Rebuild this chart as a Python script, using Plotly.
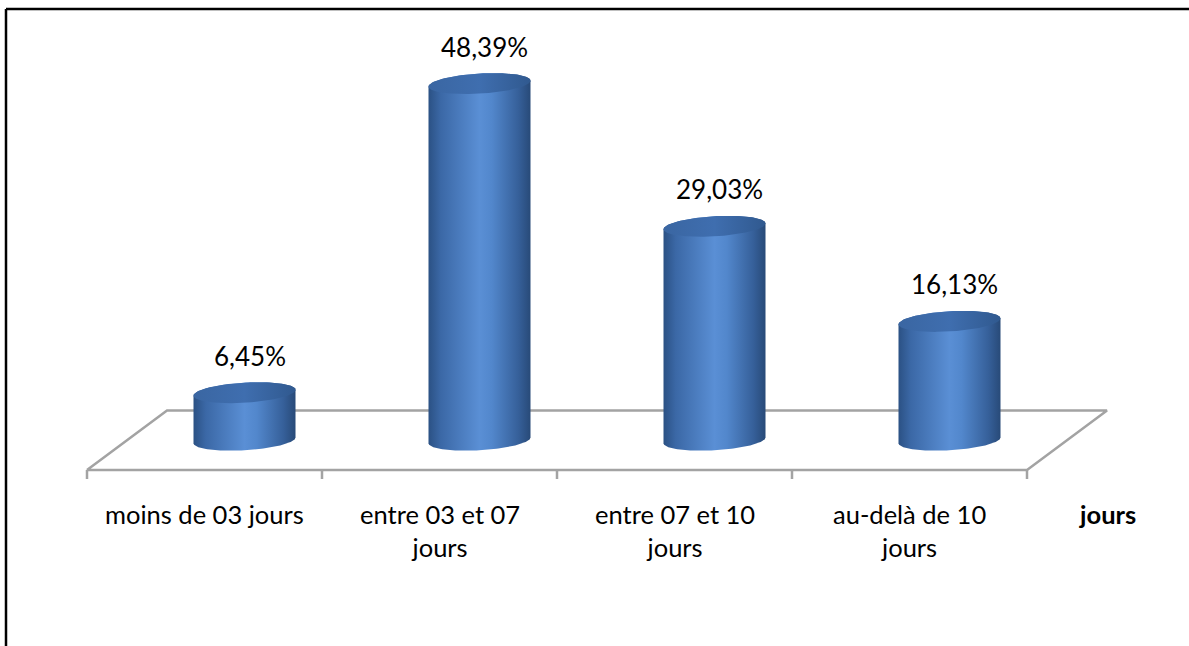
import numpy as np
import plotly.graph_objects as go

# ---- data -------------------------------------------------------------
categories = ["moins de 03 jours", "entre 03 et 07<br>jours",
              "entre 07 et 10<br>jours", "au-delà de 10<br>jours"]
values = [6.45, 48.39, 29.03, 16.13]
value_labels = ["6,45%", "48,39%", "29,03%", "16,13%"]
axis_title = "jours"

# ---- oblique 3-D projection parameters (axis units) -------------------
PX_PER_CAT = 235.0          # pixels per category step
PX_PER_PCT = 7.37           # pixels per percent
DEPTH_X = 80.0 / PX_PER_CAT  # floor depth, horizontal component
DEPTH_Y = 59.5 / PX_PER_PCT  # floor depth, vertical component
RADIUS_X = 49.0 / PX_PER_CAT  # cylinder radius across
RADIUS_D = 0.1766             # cylinder radius in depth fraction
TICK_LEN = 9.0 / PX_PER_PCT

W, H = 1189, 646
FRONT_Y_PX = 470.0
CAT0_X_PX = 204.5
x_range = [(0 - CAT0_X_PX) / PX_PER_CAT, (W - CAT0_X_PX) / PX_PER_CAT]
y_range = [(FRONT_Y_PX - H) / PX_PER_PCT, FRONT_Y_PX / PX_PER_PCT]

FONT = "Lato, 'Open Sans', sans-serif"
n = len(categories)

fig = go.Figure()

# floor of the 3-D plot
x_left, x_right = -0.5, n - 0.5
floor_x = [x_left, x_right, x_right + DEPTH_X, x_left + DEPTH_X, x_left]
floor_y = [0, 0, DEPTH_Y, DEPTH_Y, 0]
fig.add_trace(go.Scatter(x=floor_x, y=floor_y, mode="lines",
                         line=dict(color="#a3a3a3", width=2.5),
                         hoverinfo="skip"))

# category tick marks along the front edge
tx, ty = [], []
for k in range(n + 1):
    xv = x_left + k
    tx += [xv, xv, None]
    ty += [0, -TICK_LEN, None]
fig.add_trace(go.Scatter(x=tx, y=ty, mode="lines",
                         line=dict(color="#a3a3a3", width=2.5),
                         hoverinfo="skip"))

# ellipse parametrisation for a horizontal circle in the projection
shear = RADIUS_D * DEPTH_X
vert = RADIUS_D * DEPTH_Y
theta0 = np.arctan2(shear, RADIUS_X)


def ellipse(cx, cy, t):
    return (cx + RADIUS_X * np.cos(t) + shear * np.sin(t),
            cy + vert * np.sin(t))


body_scale = [[0.0, "#2b5184"], [0.12, "#3b68a6"], [0.5, "#5a8fd5"],
              [0.62, "#5287cc"], [0.88, "#36609a"], [1.0, "#284a78"]]
top_scale = [[0.0, "#3a66a2"], [0.5, "#3f6eaf"], [1.0, "#30598f"]]

for i, v in enumerate(values):
    cx = i + 0.5 * DEPTH_X
    base = 0.5 * DEPTH_Y
    top = base + v
    t_front = np.linspace(theta0 + np.pi, theta0 + 2 * np.pi, 80)
    t_back = np.linspace(theta0, theta0 + np.pi, 80)
    bx, by = ellipse(cx, base, t_front)
    ux, uy = ellipse(cx, top, t_back)
    fig.add_trace(go.Scatter(
        x=np.concatenate([bx, ux, bx[:1]]),
        y=np.concatenate([by, uy, by[:1]]),
        mode="lines", fill="toself", line=dict(width=0, color="#3b68a6"),
        fillgradient=dict(type="horizontal", colorscale=body_scale),
        hoverinfo="skip"))
    t_all = np.linspace(0, 2 * np.pi, 160)
    ex, ey = ellipse(cx, top, t_all)
    fig.add_trace(go.Scatter(
        x=ex, y=ey, mode="lines", fill="toself",
        line=dict(width=0, color="#3a66a2"),
        fillgradient=dict(type="horizontal", colorscale=top_scale),
        hoverinfo="skip"))
    fig.add_annotation(x=cx, y=top, xref="x", yref="y", text=value_labels[i],
                       showarrow=False, yanchor="middle", yshift=37, xshift=5,
                       font=dict(family=FONT, size=26, color="#000000"))
    fig.add_annotation(x=i, y=-TICK_LEN, xref="x", yref="y",
                       text=categories[i], showarrow=False, yanchor="top",
                       yshift=-18,
                       font=dict(family=FONT, size=25.5, color="#000000"))

fig.add_annotation(x=x_right + DEPTH_X, y=-TICK_LEN, xref="x", yref="y",
                   text="<b>" + axis_title + "</b>", showarrow=False,
                   yanchor="top", yshift=-18,
                   font=dict(family=FONT, size=25.5, color="#000000"))

# outer chart frame (top and left edges)
fig.add_shape(type="line", xref="paper", yref="paper",
              x0=6 / W, y0=0, x1=6 / W, y1=1 - 9 / H,
              line=dict(color="#000000", width=2.5))
fig.add_shape(type="line", xref="paper", yref="paper",
              x0=6 / W, y0=1 - 9 / H, x1=1, y1=1 - 9 / H,
              line=dict(color="#000000", width=2.5))

fig.update_layout(
    width=W, height=H, margin=dict(l=0, r=0, t=0, b=0),
    paper_bgcolor="#ffffff", plot_bgcolor="#ffffff", showlegend=False,
    xaxis=dict(range=x_range, visible=False, fixedrange=True),
    yaxis=dict(range=y_range, visible=False, fixedrange=True),
)

fig.write_html("out.html")
